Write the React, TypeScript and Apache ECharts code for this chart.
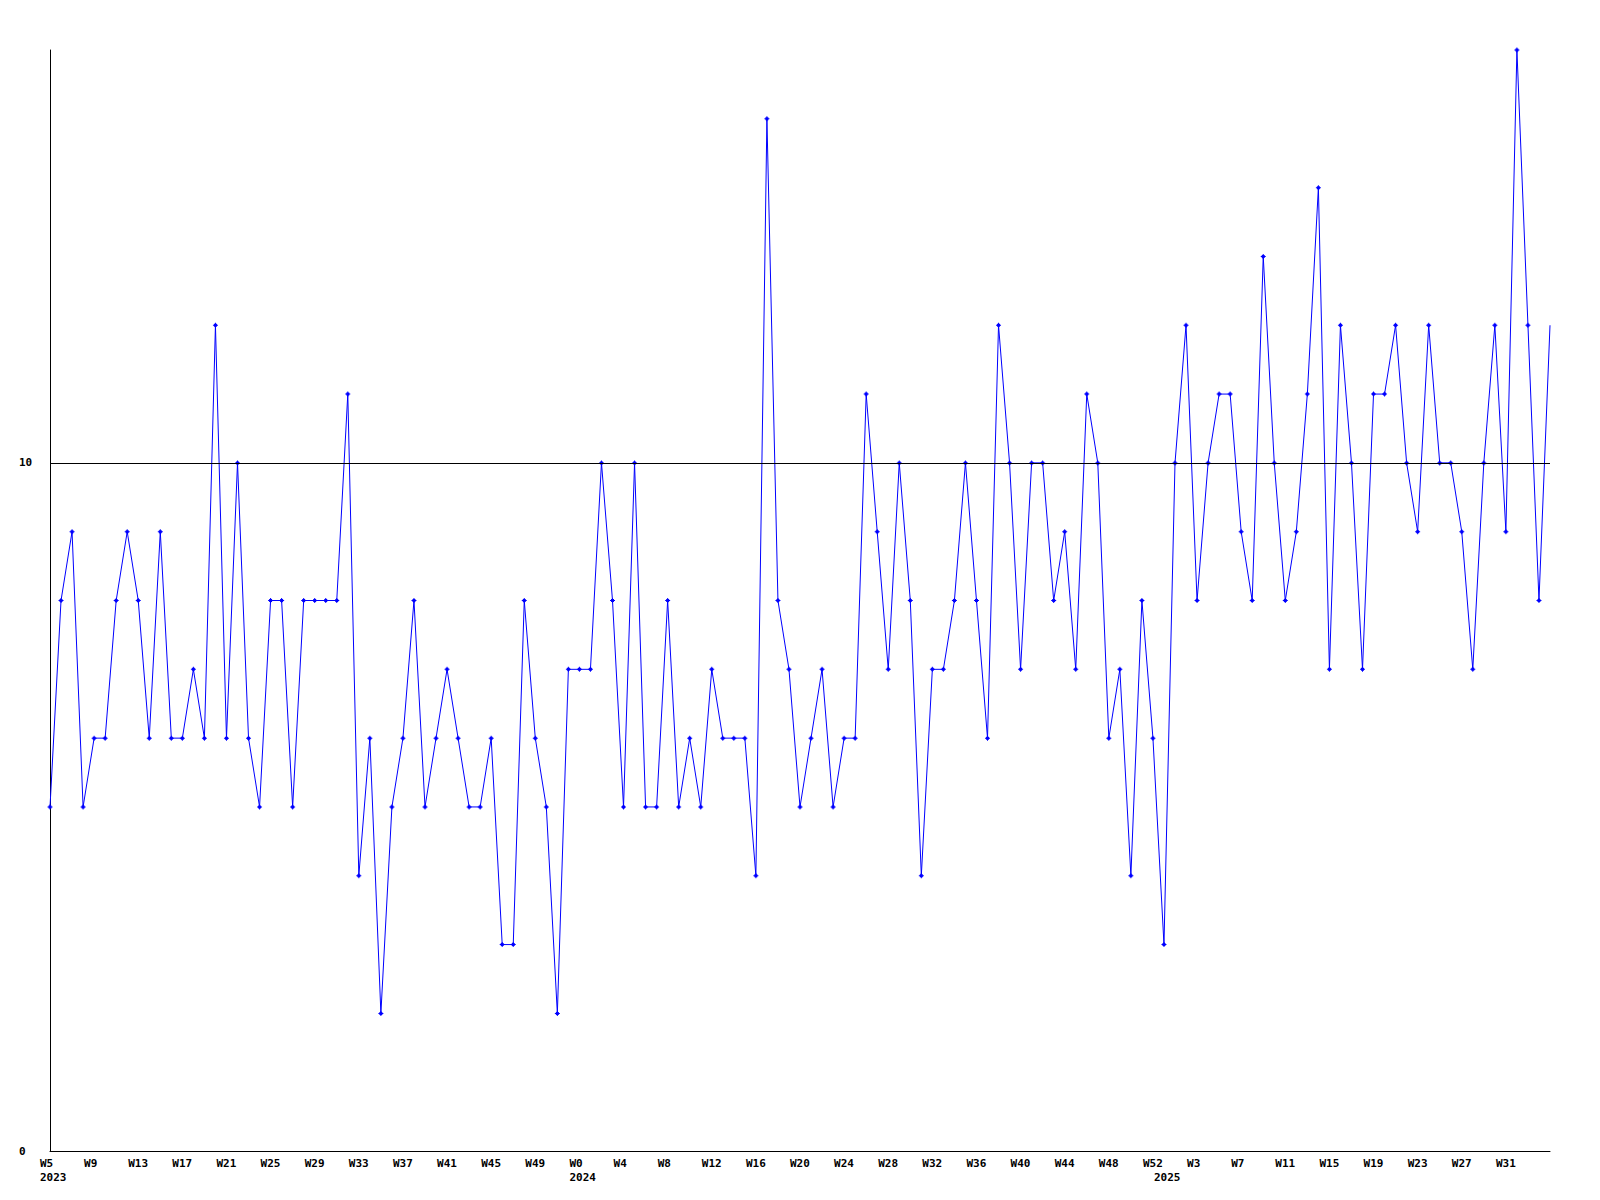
import React, { useEffect, useRef } from "react";
import * as echarts from "echarts";

// Year segments of the week axis
const yearNames = ["2023", "2024", "2025"];
const yearFirstWeek = [5, 0, 0];
const yearLastWeek = [52, 52, 35];

// Weekly values (one per week, from W5 2023)
const values = [
  5, 8, 9, 5, 6, 6, 8, 9, 8, 6,
  9, 6, 6, 7, 6, 12, 6, 10, 6, 5,
  8, 8, 5, 8, 8, 8, 8, 11, 4, 6,
  2, 5, 6, 8, 5, 6, 7, 6, 5, 5,
  6, 3, 3, 8, 6, 5, 2, 7, 7, 7,
  10, 8, 5, 10, 5, 5, 8, 5, 6, 5,
  7, 6, 6, 6, 4, 15, 8, 7, 5, 6,
  7, 5, 6, 6, 11, 9, 7, 10, 8, 4,
  7, 7, 8, 10, 8, 6, 12, 10, 7, 10,
  10, 8, 9, 7, 11, 10, 6, 7, 4, 8,
  6, 3, 10, 12, 8, 10, 11, 11, 9, 8,
  13, 10, 8, 9, 11, 14, 7, 12, 10, 7,
  11, 11, 12, 10, 9, 12, 10, 10, 9, 7,
  10, 12, 9, 16, 12, 8, 12,
];

const referenceLevel = 10;
const yTickLabels = [0, 10];
const yMax = 16;
const labelEvery = 4;

// Build categories
const categories: string[] = [];
const yearStartIndex: number[] = [];
yearNames.forEach((y, k) => {
  yearStartIndex.push(categories.length);
  for (let w = yearFirstWeek[k]; w <= yearLastWeek[k]; w++) categories.push("W" + w);
});

const markerPath = "path://M2,0h1v1h1v1h1v1h-1v1h-1v1h-1v-1h-1v-1h-1v-1h1v-1h1z";

export default function App() {
  const ref = useRef<HTMLDivElement>(null);
  useEffect(() => {
    if (!ref.current) return;
    const chart = echarts.init(ref.current, undefined, { renderer: "svg" });
    const n = categories.length;
    const font = "'DejaVu Sans Mono', monospace";
    const showWeek = (i: number) => i % labelEvery === 0 && i < n - 1;
    const yearAt = (i: number) => {
      const k = yearStartIndex.indexOf(i);
      return k >= 0 ? yearNames[k] : "";
    };
    chart.setOption({
      animation: false,
      backgroundColor: "#ffffff",
      grid: [
        { left: 50, top: 50, width: 1500, height: 1101 },
        { left: 40, top: 50, width: 1500, height: 1101 },
      ],
      xAxis: [
        {
          type: "category",
          gridIndex: 0,
          data: categories,
          boundaryGap: false,
          axisLine: { show: true, lineStyle: { color: "#000", width: 1 } },
          axisTick: { show: false },
          axisLabel: { show: false },
          splitLine: { show: false },
        },
        {
          type: "category",
          gridIndex: 1,
          data: categories,
          boundaryGap: false,
          axisLine: { show: false },
          axisTick: { show: false },
          splitLine: { show: false },
          axisLabel: {
            show: true,
            interval: (i: number) => showWeek(i) || yearAt(i) !== "",
            align: "left",
            margin: 5,
            color: "#000",
            fontFamily: font,
            fontWeight: "bold",
            fontSize: 11,
            lineHeight: 14,
            formatter: (v: string, i: number) => (showWeek(i) ? v : "") + "\n" + yearAt(i),
          },
        },
      ],
      yAxis: [
        {
          type: "value",
          gridIndex: 0,
          min: 0,
          max: yMax,
          interval: 10,
          axisLine: { show: true, lineStyle: { color: "#000", width: 1 } },
          axisTick: { show: false },
          splitLine: { show: false },
          axisLabel: {
            show: true,
            align: "left",
            margin: 31,
            color: "#000",
            fontFamily: font,
            fontWeight: "bold",
            fontSize: 11,
            formatter: (v: number) => (yTickLabels.includes(v) ? String(v) : ""),
          },
        },
        { type: "value", gridIndex: 1, min: 0, max: yMax, show: false },
      ],
      series: [
        {
          type: "line",
          xAxisIndex: 0,
          yAxisIndex: 0,
          data: values,
          color: "#0000ff",
          lineStyle: { color: "#0000ff", width: 1 },
          itemStyle: { color: "#0000ff" },
          symbol: (_v: any, p: any) => (p.dataIndex === values.length - 1 ? "none" : markerPath),
          symbolSize: 5,
          showSymbol: true,
          silent: true,
          markLine: {
            silent: true,
            symbol: "none",
            label: { show: false },
            lineStyle: { color: "#000", width: 1, type: "solid" },
            data: [{ yAxis: referenceLevel }],
          },
        },
      ],
    });
    return () => chart.dispose();
  }, []);
  return (
    <div
      ref={ref}
      style={{ position: "fixed", left: 0, top: 0, width: 1600, height: 1200, background: "#fff" }}
    />
  );
}
